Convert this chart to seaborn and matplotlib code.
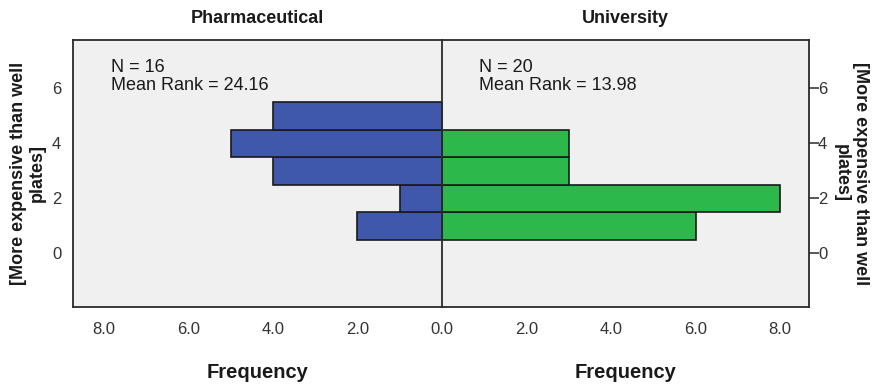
import matplotlib
matplotlib.use("Agg")
import matplotlib.pyplot as plt
import seaborn as sns
import numpy as np

# Response bins (integer scores) and frequencies per group
bin_centers = [1, 2, 3, 4, 5]
bin_edges = [0.5, 1.5, 2.5, 3.5, 4.5, 5.5]
pharma_counts = [2, 1, 4, 5, 4]
univ_counts = [6, 8, 3, 3, 0]

groups = ["Pharmaceutical", "University"]
group_n = [16, 20]
mean_ranks = [24.16, 13.98]

freq_ticks = [0, 2, 4, 6, 8]
score_ticks = [0, 2, 4, 6]
ylabel_text = "[More expensive than well\nplates]"

blue = "#3F58AB"
green = "#2DB84B"
panel_bg = "#F0F0F0"
frame_col = "#2a2a2a"
tick_col = "#333333"
text_col = "#1a1a1a"

sns.set_theme(style="white")
plt.rcParams["font.family"] = ["Liberation Sans", "DejaVu Sans"]

fig = plt.figure(figsize=(8.72, 3.87), dpi=100)
W, H = 872, 387
x0, xm, x1 = 73, 442, 809
y_top, y_bot = 40, 306.7
ax_l = fig.add_axes([x0 / W, (H - y_bot) / H, (xm - x0) / W, (y_bot - y_top) / H])
ax_r = fig.add_axes([xm / W, (H - y_bot) / H, (x1 - xm) / W, (y_bot - y_top) / H])
ax_l.set_zorder(3)

for ax, counts, color in [(ax_l, pharma_counts, blue), (ax_r, univ_counts, green)]:
    sns.histplot(y=bin_centers, weights=counts, bins=bin_edges, ax=ax,
                 color=color, alpha=1.0, edgecolor="#1a1a1a", linewidth=1.2)
    ax.set_facecolor(panel_bg)
    ax.set_ylim(-1.94, 7.76)
    ax.set_yticks(score_ticks)
    ax.set_yticklabels([str(t) for t in score_ticks])
    ax.set_xticks(freq_ticks)
    ax.tick_params(axis="both", which="both", direction="out", length=7.5,
                   width=1.1, color=frame_col, labelcolor=tick_col, labelsize=12)
    ax.tick_params(axis="x", pad=3.5)
    ax.tick_params(axis="y", pad=1)
    ax.set_xlabel("Frequency", fontsize=14.5, fontweight="bold", labelpad=19,
                  color=text_col)
    ax.set_ylabel("")
    for s in ax.spines.values():
        s.set_color(frame_col)
        s.set_linewidth(1.3)
    ax.grid(False)

# the shared zero sits on the centre line and is labelled once
ax_l.set_xticklabels([f"{t:.1f}" for t in freq_ticks])
ax_r.set_xticklabels([""] + [f"{t:.1f}" for t in freq_ticks[1:]])

ax_l.set_xlim(8.73, 0)
ax_r.set_xlim(0, 8.68)
ax_r.spines["left"].set_visible(False)

ax_r.yaxis.tick_right()
ax_r.tick_params(axis="y", left=False, right=True, labelleft=False, labelright=True, pad=-1)

y_mid = 1 - (y_top + y_bot) / 2 / H
fig.text(28 / W, y_mid, ylabel_text, rotation=90, fontsize=13, fontweight="bold",
         color=text_col, ha="center", va="center", multialignment="center")
fig.text(851 / W, y_mid, ylabel_text, rotation=-90, fontsize=13, fontweight="bold",
         color=text_col, ha="center", va="center", multialignment="center")

for ax, name in zip([ax_l, ax_r], groups):
    ax.set_title(name, fontsize=13, fontweight="bold", pad=12, color=text_col)

ax_l.text(8.73 - (111 - 73) / 42.4, 6.43, f"N = {group_n[0]}\nMean Rank = {mean_ranks[0]:.2f}",
          fontsize=13, color=text_col, va="center", ha="left", linespacing=1.1)
ax_r.text((479 - 442) / 42.3, 6.43, f"N = {group_n[1]}\nMean Rank = {mean_ranks[1]:.2f}",
          fontsize=13, color=text_col, va="center", ha="left", linespacing=1.1)

fig.savefig("out.png", dpi=100, facecolor="white")
